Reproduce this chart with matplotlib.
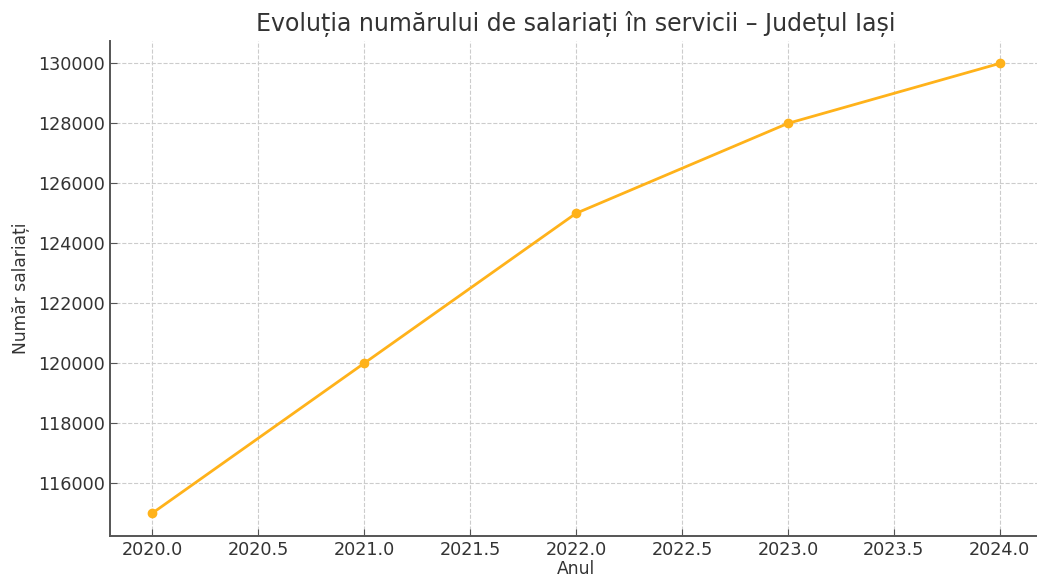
import matplotlib
matplotlib.use("Agg")
import matplotlib.pyplot as plt

plt.rcParams['font.family'] = ['DejaVu Sans']

# data
years = [2020, 2021, 2022, 2023, 2024]
employees = [115000, 120000, 125000, 128000, 130000]

title = "Evoluția numărului de salariați în servicii – Județul Iași"
x_label = "Anul"
y_label = "Număr salariați"

text_col = "#333333"

fig = plt.figure(figsize=(10.37, 5.76), dpi=100)
ax = fig.add_axes([0.106, 0.070, 0.899, 0.859])

ax.plot(years, employees, marker="o", color="#FFB21A", linewidth=2, markersize=6)

ax.set_title(title, fontsize=17, color=text_col, pad=7)
ax.set_xlabel(x_label, fontsize=12.3, color=text_col, labelpad=1)
ax.set_ylabel(y_label, fontsize=12.3, color=text_col, labelpad=6)

ax.grid(True, linestyle="--", color="#cccccc", linewidth=0.8)
ax.tick_params(direction="in", labelsize=12.7, labelcolor=text_col, color="#555555", length=5)
ax.ticklabel_format(useOffset=False, style="plain", axis="both")

for side in ["top", "right"]:
    ax.spines[side].set_visible(False)
for side in ["left", "bottom"]:
    ax.spines[side].set_color("#555555")
    ax.spines[side].set_linewidth(1.4)

fig.savefig("out.png", dpi=100)
